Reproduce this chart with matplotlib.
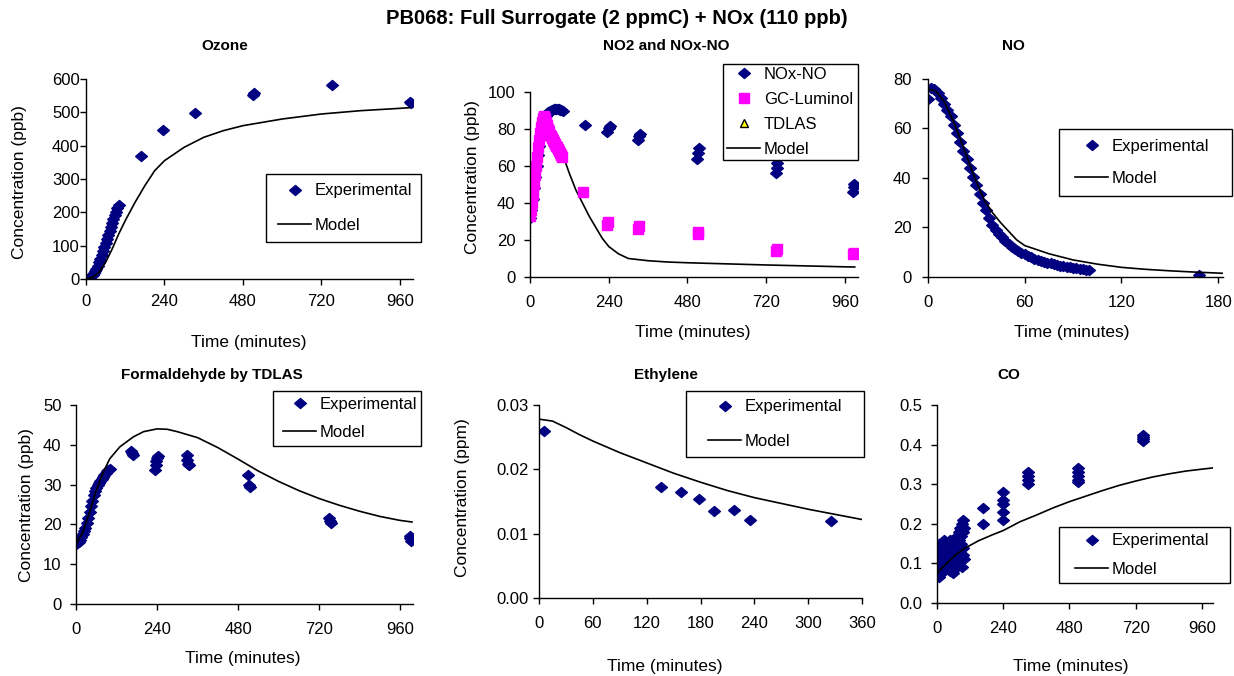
import matplotlib
matplotlib.use("Agg")
import matplotlib.pyplot as plt
from matplotlib.patches import Rectangle
from matplotlib.lines import Line2D

plt.rcParams['font.family'] = ['Liberation Sans', 'DejaVu Sans']

NAVY = '#000080'
PINK = '#ff00ff'

# ---------------- data ----------------
# Ozone
o3_t_dense = [0, 4, 8, 12, 16, 20, 24, 28, 32, 36, 40, 44, 48, 52, 56, 60, 64, 68, 72, 76, 80, 84, 88, 92, 96, 100]
o3_exp_dense = [0, 1, 3, 5, 8, 12, 17, 23, 31, 40, 50, 61, 73, 85, 97, 109, 121, 133, 145, 157, 168, 180, 191, 202, 213, 222]
o3_t_pts = [167, 234, 333, 511, 515, 751, 993, 990]
o3_exp_pts = [369, 446, 499, 552, 557, 583, 527, 530]
o3_t_mod = [0, 20, 40, 60, 80, 100, 120, 150, 180, 210, 240, 300, 360, 420, 480, 540, 600, 720, 840, 960, 990]
o3_mod = [0, 5, 20, 50, 90, 135, 175, 230, 280, 325, 355, 395, 425, 445, 460, 470, 480, 495, 505, 512, 514]

# NO2 and NOx-NO
nox_t = [0, 4, 8, 12, 16, 20, 24, 28, 32, 36, 40, 44, 48, 52, 56, 60, 64, 68, 72, 76, 80, 84, 88, 92, 96, 100,
         168, 236, 240, 244, 328, 332, 336, 510, 513, 516, 750, 752, 754, 985, 987, 989]
nox_no = [32, 36, 42, 48, 54, 60, 66, 71, 75, 79, 82, 85, 87, 88, 89, 90, 90, 90.5, 91, 91, 91, 91, 91, 90.5, 90.5, 90,
          82, 78.5, 80.5, 81.5, 74, 76, 77.5, 64, 67, 69.5, 56, 59, 61.5, 46, 48.5, 50.5]
gcl_t = [0, 3, 6, 9, 12, 15, 18, 21, 24, 27, 30, 33, 36, 39, 42, 45, 48, 51, 54, 57, 60, 63, 66, 69, 72, 75, 78,
         81, 84, 87, 90, 93, 96, 99, 163, 236, 238, 330, 332, 511, 513, 750, 752, 985, 987]
gcl_no2 = [33, 36, 40, 45, 50, 55, 60, 65, 70, 74, 78, 81, 84, 86, 87, 86, 84, 82, 80, 79, 77, 76, 75, 74, 73, 72,
           71, 70, 69, 68, 67, 66, 66, 65, 45.8, 28, 29.5, 26, 27.5, 23.5, 24.5, 14, 15, 12.5, 13]
tdlas_t = []
tdlas_no2 = []
no2_t_mod = [0, 20, 40, 60, 80, 100, 120, 140, 160, 180, 200, 220, 240, 270, 300, 360, 420, 480, 600, 720, 840, 960, 990]
no2_mod = [33, 55, 75, 83, 78, 66, 56, 47, 40, 33, 27, 21, 16.5, 12.5, 10, 8.8, 8.1, 7.7, 7.1, 6.5, 6, 5.5, 5.4]

# NO
no_t = [0, 2, 4, 6, 8, 10, 12, 14, 16, 18, 20, 22, 24, 26, 28, 30, 32, 34, 36, 38, 40, 42, 44, 46, 48, 50,
        52, 54, 56, 58, 60, 62, 64, 66, 68, 70, 72, 74, 76, 78, 80, 82, 84, 86, 88, 90, 92, 94, 96, 98, 100, 168]
no_exp = [72, 76.5, 76, 74.5, 72.5, 70, 67.5, 65, 61.5, 58, 54.5, 51, 47.5, 44, 40.5, 37, 33.5, 30, 27, 24, 21,
          19, 17.5, 16, 14.5, 13.3, 12.3, 11.4, 10.6, 9.8, 9.1, 8.5, 7.9, 7.4, 7, 6.6, 6.2, 5.8, 5.5, 5.2, 4.9,
          4.6, 4.4, 4.2, 4, 3.8, 3.6, 3.4, 3.2, 3, 2.9, 0.7]
no_t_mod = [0, 5, 10, 15, 20, 25, 30, 35, 40, 45, 50, 55, 60, 75, 90, 105, 120, 135, 150, 165, 183]
no_mod = [76, 75, 71, 64, 56, 47, 38.5, 31, 26, 22, 18.5, 15, 12.7, 9.4, 6.9, 5.2, 3.9, 3.1, 2.5, 2, 1.5]

# Formaldehyde by TDLAS
hcho_t = [0, 4, 8, 12, 16, 20, 24, 28, 32, 36, 40, 44, 48, 52, 56, 60, 64, 68, 72, 76, 80, 84, 88, 92, 96, 100,
          163, 166, 169, 234, 236, 238, 240, 242, 328, 330, 332, 334, 509, 512, 514, 750, 753, 756, 988, 990, 992]
hcho_exp = [15, 15.3, 15.7, 16.2, 16.8, 17.5, 18.3, 19.2, 20.3, 21.6, 23, 24.5, 26, 27.3, 28.4, 29.2, 29.9, 30.5,
            31, 31.5, 32, 32.5, 32.9, 33.3, 33.7, 34,
            38.5, 38, 37.5, 33.7, 34.8, 36, 36.8, 37.2, 37.4, 36.2, 35.3, 35, 32.4, 30, 29.5, 21.5, 20.8, 20.3,
            17.2, 16.5, 15.8]
hcho_t_mod = [0, 20, 40, 60, 80, 100, 130, 170, 200, 240, 270, 300, 360, 420, 480, 540, 600, 660, 720, 780, 840, 900, 960, 995]
hcho_mod = [15, 18, 23, 28.5, 33, 36.5, 39.5, 42, 43.3, 44, 43.9, 43.3, 41.8, 39.3, 36.4, 33.4, 30.8, 28.5, 26.5,
            24.8, 23.3, 22, 21, 20.6]

# Ethylene
eth_t = [5.6, 135.6, 158, 178, 195, 217, 235, 325]
eth_exp = [0.026, 0.0173, 0.0165, 0.0154, 0.0135, 0.0137, 0.0121, 0.0119]
eth_t_mod = [0, 15, 30, 45, 60, 90, 120, 150, 180, 210, 240, 270, 300, 330, 360]
eth_mod = [0.0278, 0.0275, 0.0265, 0.0254, 0.0244, 0.0226, 0.0210, 0.0194, 0.0180, 0.0167, 0.0156, 0.0147,
           0.0138, 0.0130, 0.0122]

# CO
co_t_early = [0, 3, 6, 9, 12, 15, 18, 21, 24, 27, 30, 33, 36, 39, 42, 45, 48, 51, 54, 57, 60, 63, 66, 69, 72, 75,
              78, 81, 84, 87, 90, 93, 96, 99]
co_exp_a = [0.10, 0.14, 0.12, 0.15, 0.13, 0.11, 0.14, 0.12, 0.16, 0.13, 0.15, 0.12, 0.14, 0.13, 0.15, 0.12, 0.16,
            0.14, 0.13, 0.11, 0.15, 0.13, 0.16, 0.14, 0.17, 0.15, 0.18, 0.16, 0.19, 0.17, 0.20, 0.18, 0.21, 0.19]
co_exp_b = [0.07, 0.09, 0.065, 0.08, 0.10, 0.075, 0.09, 0.11, 0.08, 0.10, 0.09, 0.12, 0.10, 0.085, 0.11, 0.095,
            0.08, 0.12, 0.10, 0.075, 0.11, 0.13, 0.10, 0.12, 0.09, 0.14, 0.12, 0.10, 0.13, 0.15, 0.09, 0.12, 0.14, 0.11]
co_t_pts = [168, 168, 238, 238, 238, 238, 238, 331, 331, 331, 331, 512, 512, 512, 512, 512, 748, 748, 748, 748]
co_exp_pts = [0.24, 0.20, 0.28, 0.26, 0.25, 0.23, 0.21, 0.33, 0.32, 0.31, 0.30, 0.34, 0.33, 0.32, 0.31, 0.305,
              0.425, 0.42, 0.415, 0.41]
co_t_mod = [0, 20, 40, 60, 80, 100, 150, 200, 240, 300, 360, 420, 480, 540, 600, 660, 720, 780, 840, 900, 960, 998]
co_mod = [0.075, 0.09, 0.103, 0.117, 0.128, 0.138, 0.157, 0.172, 0.183, 0.205, 0.222, 0.24, 0.256, 0.27, 0.284,
          0.297, 0.308, 0.318, 0.326, 0.333, 0.338, 0.341]

# ---------------- figure ----------------
W, H = 1234, 676
fig = plt.figure(figsize=(W / 100, H / 100), dpi=100)
fig.patch.set_facecolor('white')

# Excel-like diamond, a little wider than tall
DIAMOND = [(-1, 0), (0, 0.85), (1, 0), (0, -0.85), (-1, 0)]


def make_ax(x0, x1, ytop, ybot, xpad, ypad):
    ax = fig.add_axes([x0 / W, 1 - ybot / H, (x1 - x0) / W, (ybot - ytop) / H])
    ax.spines['top'].set_visible(False)
    ax.spines['right'].set_visible(False)
    for s in ('left', 'bottom'):
        ax.spines[s].set_linewidth(1.0)
        ax.spines[s].set_color('black')
    ax.tick_params(axis='both', direction='out', length=4, width=1, labelsize=12)
    ax.tick_params(axis='x', pad=xpad)
    ax.tick_params(axis='y', pad=ypad)
    return ax


def ftext(x, y, s, **kw):
    fig.text(x / W, 1 - y / H, s, ha='center', va='center', **kw)


def legend_box(box, handles, labels, spacing, inset=10):
    x0, y0, x1, y1 = box
    fig.patches.append(Rectangle((x0 / W, 1 - y1 / H), (x1 - x0) / W, (y1 - y0) / H,
                                 transform=fig.transFigure, facecolor='white',
                                 edgecolor='black', linewidth=1.0, zorder=1))
    fig.legend(handles, labels, loc='center left',
               bbox_to_anchor=((x0 + inset) / W, 1 - (y0 + y1) / 2 / H),
               frameon=False, fontsize=12, handlelength=2.0, handletextpad=0.2,
               labelspacing=spacing, borderpad=0, borderaxespad=0)


diamond = dict(marker=DIAMOND, color=NAVY, linestyle='none', markersize=8.5)
h_exp = Line2D([], [], **diamond)
h_mod = Line2D([], [], color='black', lw=1.2)
h_gcl = Line2D([], [], marker='s', color=PINK, linestyle='none', markersize=7)
h_tdl = Line2D([], [], marker='^', color='yellow', mec='black', linestyle='none', markersize=6)

# Ozone
ax1 = make_ax(86, 413, 79, 279, 7, 0.5)
ax1.plot(o3_t_dense, o3_exp_dense, **diamond)
ax1.plot(o3_t_pts, o3_exp_pts, **diamond)
ax1.plot(o3_t_mod, o3_mod, color='black', lw=1.2)
ax1.set_xlim(0, 1000)
ax1.set_ylim(0, 600)
ax1.set_xticks([0, 240, 480, 720, 960])
ax1.set_yticks(range(0, 601, 100))
legend_box((266, 174, 421, 242), [h_exp, h_mod], ['Experimental', 'Model'], 1.14, inset=12)

# NO2 and NOx-NO
ax2 = make_ax(530, 858, 92, 277, 9, 6.5)
ax2.plot(no2_t_mod, no2_mod, color='black', lw=1.2, zorder=1)
ax2.plot(nox_t, nox_no, **diamond)
ax2.plot(gcl_t, gcl_no2, marker='s', color=PINK, linestyle='none', markersize=7)
ax2.plot(tdlas_t, tdlas_no2, marker='^', color='yellow', mec='black', linestyle='none', markersize=6)
ax2.set_xlim(0, 1000)
ax2.set_ylim(0, 100)
ax2.set_xticks([0, 240, 480, 720, 960])
ax2.set_yticks(range(0, 101, 20))
legend_box((723, 64, 858, 160), [h_exp, h_gcl, h_tdl, h_mod],
           ['NOx-NO', 'GC-Luminol', 'TDLAS', 'Model'], 0.6, inset=4)

# NO
ax3 = make_ax(928, 1223, 79, 277, 9, 8)
ax3.plot(no_t, no_exp, **diamond)
ax3.plot(no_t_mod, no_mod, color='black', lw=1.2)
ax3.set_xlim(0, 183)
ax3.set_ylim(0, 80)
ax3.set_xticks([0, 60, 120, 180])
ax3.set_yticks(range(0, 81, 20))
legend_box((1059, 129, 1232, 196), [h_exp, h_mod], ['Experimental', 'Model'], 1.02, inset=16)

# Formaldehyde
ax4 = make_ax(76, 413, 405, 604, 9, 6.5)
ax4.plot(hcho_t, hcho_exp, **diamond)
ax4.plot(hcho_t_mod, hcho_mod, color='black', lw=1.2)
ax4.set_xlim(0, 998)
ax4.set_ylim(0, 50)
ax4.set_xticks([0, 240, 480, 720, 960])
ax4.set_yticks(range(0, 51, 10))
legend_box((273, 391, 421, 446), [h_exp, h_mod], ['Experimental', 'Model'], 0.78, inset=10)

# Ethylene
ax5 = make_ax(539, 862, 405, 598, 9, 3.6)
ax5.plot(eth_t, eth_exp, **diamond)
ax5.plot(eth_t_mod, eth_mod, color='black', lw=1.2)
ax5.set_xlim(0, 360)
ax5.set_ylim(0, 0.03)
ax5.set_xticks(range(0, 361, 60))
ax5.set_yticks([0, 0.01, 0.02, 0.03])
ax5.set_yticklabels(['0.00', '0.01', '0.02', '0.03'])
legend_box((686, 391, 864, 457), [h_exp, h_mod], ['Experimental', 'Model'], 1.14, inset=22)

# CO
ax6 = make_ax(937, 1213, 405, 603, 9, 6.5)
ax6.plot(co_t_early, co_exp_a, **diamond)
ax6.plot(co_t_early, co_exp_b, **diamond)
ax6.plot(co_t_pts, co_exp_pts, **diamond)
ax6.plot(co_t_mod, co_mod, color='black', lw=1.2)
ax6.set_xlim(0, 1000)
ax6.set_ylim(0, 0.5)
ax6.set_xticks([0, 240, 480, 720, 960])
ax6.set_yticks([0, 0.1, 0.2, 0.3, 0.4, 0.5])
ax6.set_yticklabels(['0.0', '0.1', '0.2', '0.3', '0.4', '0.5'])
legend_box((1059, 527, 1230, 583), [h_exp, h_mod], ['Experimental', 'Model'], 0.78, inset=16)

# titles and axis labels
ftext(617, 19, 'PB068: Full Surrogate (2 ppmC) + NOx (110 ppb)', fontsize=14.5, fontweight='bold')
ftext(225, 46, 'Ozone', fontsize=11, fontweight='bold')
ftext(666, 46, 'NO2 and NOx-NO', fontsize=11, fontweight='bold')
ftext(1013, 46, 'NO', fontsize=11, fontweight='bold')
ftext(212, 375, 'Formaldehyde by TDLAS', fontsize=11, fontweight='bold')
ftext(666, 375, 'Ethylene', fontsize=11, fontweight='bold')
ftext(1009, 375, 'CO', fontsize=11, fontweight='bold')

ftext(20, 182, 'Concentration (ppb)', fontsize=12.5, rotation=90)
ftext(473, 177, 'Concentration (ppb)', fontsize=12.5, rotation=90)
ftext(27, 505, 'Concentration (ppb)', fontsize=12.5, rotation=90)
ftext(463, 498, 'Concentration (ppm)', fontsize=12.5, rotation=90)

ftext(249, 342, 'Time (minutes)', fontsize=12.5)
ftext(693, 332, 'Time (minutes)', fontsize=12.5)
ftext(1072, 332, 'Time (minutes)', fontsize=12.5)
ftext(243, 658, 'Time (minutes)', fontsize=12.5)
ftext(665, 667, 'Time (minutes)', fontsize=12.5)
ftext(1071, 667, 'Time (minutes)', fontsize=12.5)

fig.savefig('out.png', dpi=100)
